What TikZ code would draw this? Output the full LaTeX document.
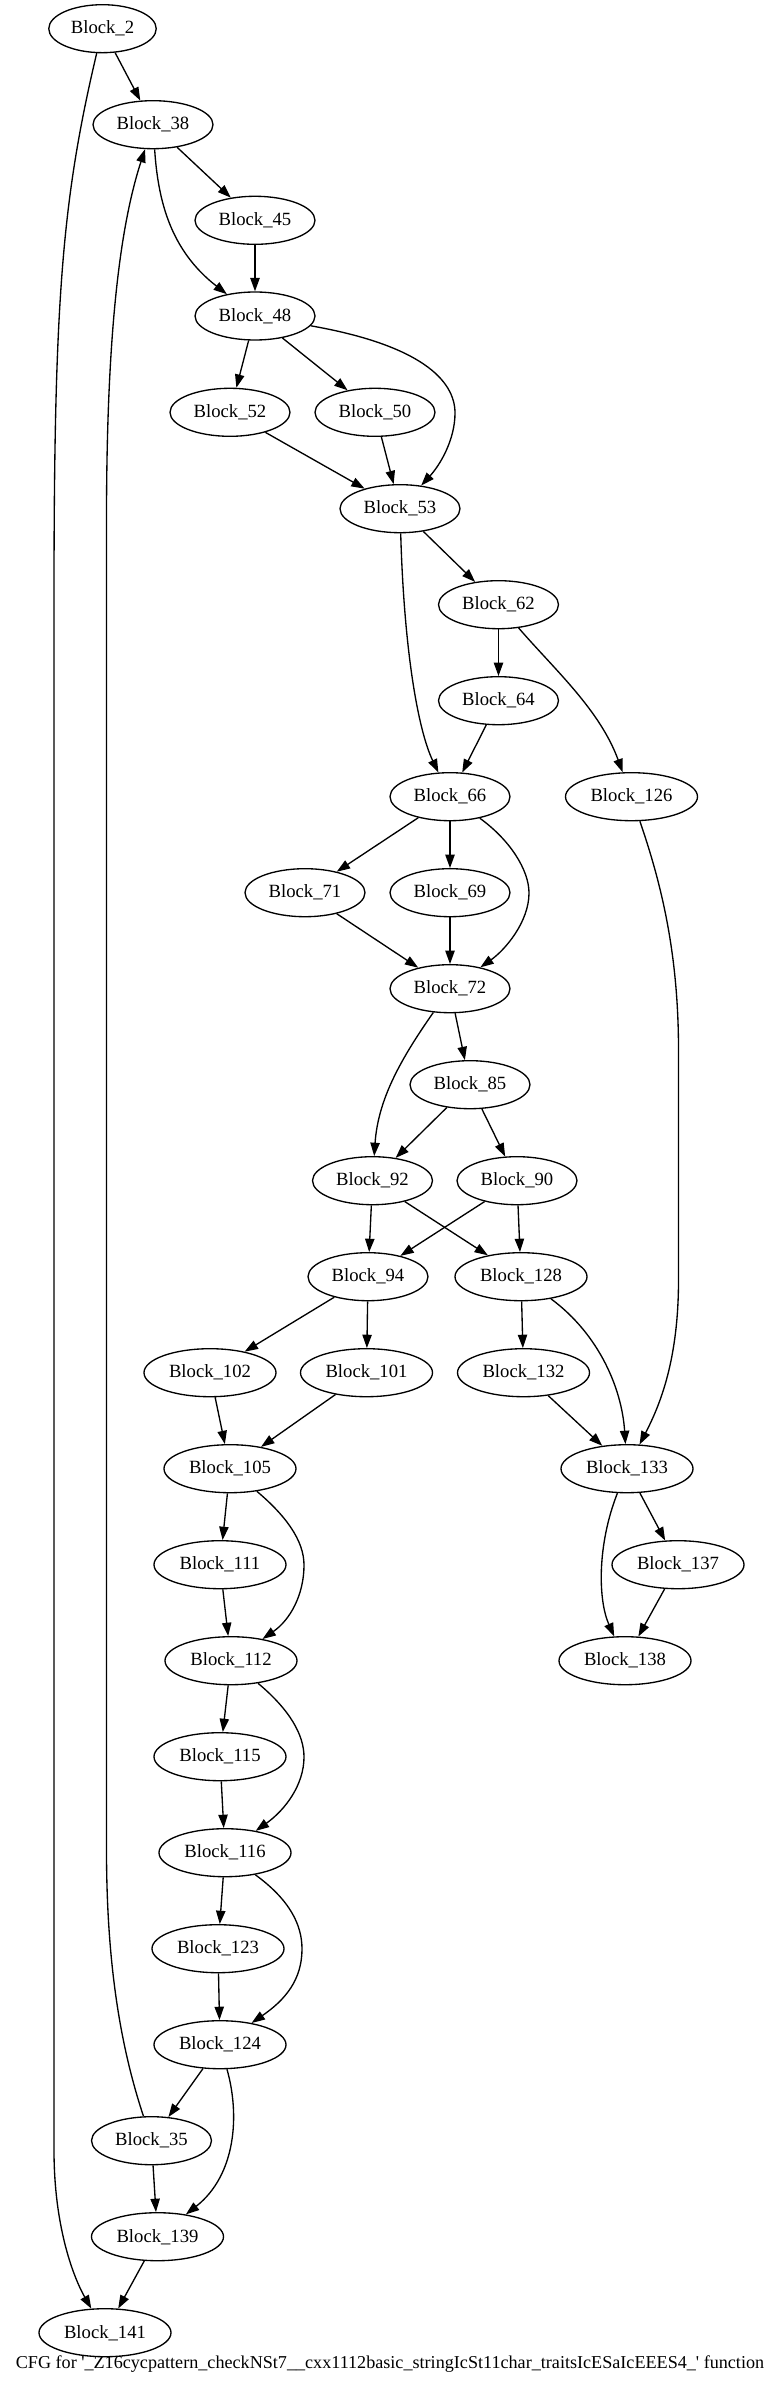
\documentclass[tikz,border=0pt]{standalone}
\usepackage{fontspec}
\newfontfamily\gvfont{Liberation Serif}
\usetikzlibrary{arrows.meta,shapes.geometric}
\tikzset{
  blk/.style={ellipse, draw, line width=1pt, inner sep=0pt, minimum width=90pt, minimum height=36pt, font=\gvfont\fontsize{14}{16}\selectfont},
  wide/.style={minimum width=99pt},
  narrow/.style={minimum width=80.6pt},
  edge/.style={draw, line width=1pt, -{Triangle[length=10pt,width=7pt]}},
  ttl/.style={font=\gvfont\fontsize{13.6}{16}\selectfont, inner sep=0pt}
}
\begin{document}
\begin{tikzpicture}[x=0.75pt,y=-0.75pt]
\useasboundingbox (0,0) rectangle (779,2393);
\node[blk,narrow] (b2) at (102.5,28.7) {Block\_2};
\node[blk] (b38) at (153,124.7) {Block\_38};
\node[blk] (b45) at (255,220.3) {Block\_45};
\node[blk] (b48) at (255,316) {Block\_48};
\node[blk] (b52) at (230,412.3) {Block\_52};
\node[blk] (b50) at (375,412.3) {Block\_50};
\node[blk] (b53) at (400,508.7) {Block\_53};
\node[blk] (b62) at (498.5,604.7) {Block\_62};
\node[blk] (b64) at (498.5,700.7) {Block\_64};
\node[blk] (b66) at (450,796.7) {Block\_66};
\node[blk,wide] (b126) at (631.5,796.7) {Block\_126};
\node[blk] (b71) at (305,892.7) {Block\_71};
\node[blk] (b69) at (450,892.7) {Block\_69};
\node[blk] (b72) at (450,988.7) {Block\_72};
\node[blk] (b85) at (470,1084.7) {Block\_85};
\node[blk] (b92) at (372.5,1180.7) {Block\_92};
\node[blk] (b90) at (517,1180.7) {Block\_90};
\node[blk] (b94) at (368,1276.7) {Block\_94};
\node[blk,wide] (b128) at (521,1276.7) {Block\_128};
\node[blk,wide] (b102) at (210,1372.7) {Block\_102};
\node[blk,wide] (b101) at (366.5,1372.7) {Block\_101};
\node[blk,wide] (b132) at (523.5,1372.7) {Block\_132};
\node[blk,wide] (b105) at (230,1468.7) {Block\_105};
\node[blk,wide] (b133) at (627,1468.7) {Block\_133};
\node[blk,wide] (b111) at (220,1564.7) {Block\_111};
\node[blk,wide] (b137) at (678,1564.7) {Block\_137};
\node[blk,wide] (b112) at (231,1660.7) {Block\_112};
\node[blk,wide] (b138) at (625,1660.7) {Block\_138};
\node[blk,wide] (b115) at (220,1756.7) {Block\_115};
\node[blk,wide] (b116) at (225,1852.7) {Block\_116};
\node[blk,wide] (b123) at (218,1948.7) {Block\_123};
\node[blk,wide] (b124) at (220,2044.7) {Block\_124};
\node[blk] (b35) at (151.5,2140.7) {Block\_35};
\node[blk,wide] (b139) at (157.5,2236.7) {Block\_139};
\node[blk,wide] (b141) at (105,2332.7) {Block\_141};
\node[ttl] (title) at (390,2364) {CFG for '\_Z16cycpattern\_checkNSt7\_\_cxx1112basic\_stringIcSt11char\_traitsIcESaIcEEES4\_' function};

% straight edges
\foreach \a/\b in {b2/b38, b38/b45, b45/b48, b48/b52, b48/b50, b52/b53, b50/b53, b53/b62, b62/b64, b64/b66, b66/b71, b66/b69, b71/b72, b69/b72, b72/b85, b85/b92, b85/b90, b92/b94, b92/b128, b90/b94, b90/b128, b94/b102, b94/b101, b128/b132, b132/b133, b102/b105, b101/b105, b105/b111, b111/b112, b133/b137, b137/b138, b112/b115, b115/b116, b116/b123, b123/b124, b124/b35, b35/b139, b139/b141}
  \draw[edge] (\a) -- (\b);

% curved edges
\draw[edge] (b2) .. controls (62,200) and (54,300) .. (54,600) -- (54,2150) .. controls (54,2230) and (75,2280) .. (b141);
\draw[edge] (b35) .. controls (125,2060) and (106.5,1980) .. (106.5,1850) -- (106.5,520) .. controls (106.5,320) and (122,220) .. (b38);
\draw[edge] (b38) .. controls (158,200) and (170,250) .. (b48);
\draw[edge] (b48) .. controls (420,345) and (455,380) .. (455,413) .. controls (455,440) and (440,465) .. (b53);
\draw[edge] (b53) .. controls (404,650) and (418,730) .. (b66);
\draw[edge] (b62) .. controls (555,670) and (600,710) .. (b126);
\draw[edge] (b66) .. controls (510,840) and (529,870) .. (529,893) .. controls (529,922) and (505,950) .. (b72);
\draw[edge] (b72) .. controls (400,1060) and (378,1100) .. (b92);
\draw[edge] (b128) .. controls (600,1335) and (622,1390) .. (b133);
\draw[edge] (b126) .. controls (660,880) and (678.5,950) .. (678.5,1050) -- (678.5,1280) .. controls (678.5,1360) and (660,1405) .. (b133);
\draw[edge] (b105) .. controls (285,1515) and (304,1540) .. (304,1565) .. controls (304,1595) and (290,1620) .. (b112);
\draw[edge] (b112) .. controls (290,1710) and (304,1735) .. (304,1757) .. controls (304,1785) and (285,1810) .. (b116);
\draw[edge] (b116) .. controls (290,1900) and (302,1925) .. (302,1949) .. controls (302,1980) and (285,2000) .. (b124);
\draw[edge] (b133) .. controls (597,1545) and (598,1600) .. (b138);
\draw[edge] (b124) .. controls (240,2115) and (236,2175) .. (b139);
\end{tikzpicture}
\end{document}
